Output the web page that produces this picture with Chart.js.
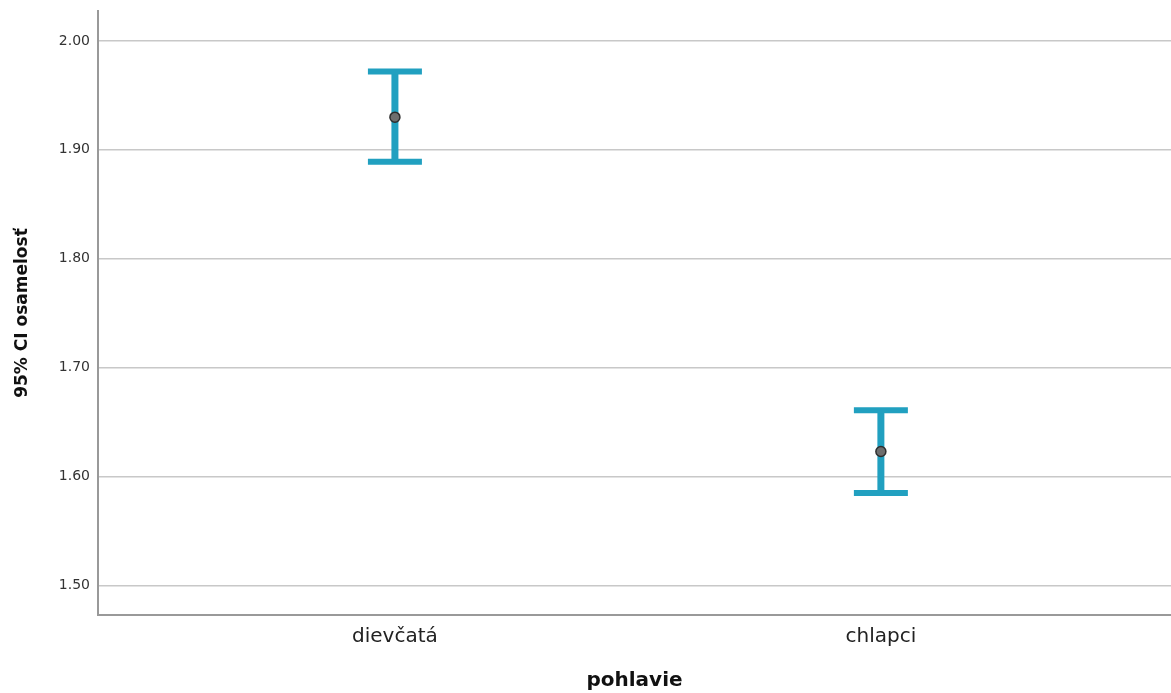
<!DOCTYPE html>
<html>
<head>
<meta charset="utf-8">
<script src="https://cdn.jsdelivr.net/npm/chart.js@4/dist/chart.umd.min.js"></script>
<style>
  html, body { margin: 0; padding: 0; background: #fff; }
  #wrap { width: 1171px; height: 693px; position: relative; }
</style>
</head>
<body>
<div id="wrap"><canvas id="c" width="1171" height="693"></canvas></div>
<script>
// 95% CI of osamelosť by pohlavie
var CATS = ['dievčatá', 'chlapci'];
var MEANS = [1.930, 1.623];
var LOWER = [1.889, 1.585];
var UPPER = [1.972, 1.661];
var Y_TICKS = [1.50, 1.60, 1.70, 1.80, 1.90, 2.00];

var TEAL = '#21a0c0';
var FONT = "'DejaVu Sans', 'Liberation Sans', sans-serif";

// draws the whisker + caps for each category through the chart scales
var errorBars = {
  id: 'errorBars',
  beforeDatasetsDraw: function (chart) {
    var x = chart.scales.x, y = chart.scales.y, ctx = chart.ctx;
    ctx.save();
    ctx.strokeStyle = TEAL;
    ctx.lineCap = 'butt';
    CATS.forEach(function (c, i) {
      var px = x.getPixelForValue(i), lo = y.getPixelForValue(LOWER[i]), hi = y.getPixelForValue(UPPER[i]);
      ctx.lineWidth = 7;
      ctx.beginPath(); ctx.moveTo(px, lo); ctx.lineTo(px, hi); ctx.stroke();
      ctx.lineWidth = 6;
      ctx.beginPath();
      ctx.moveTo(px - 27, hi); ctx.lineTo(px + 27, hi);
      ctx.moveTo(px - 27, lo); ctx.lineTo(px + 27, lo);
      ctx.stroke();
    });
    ctx.restore();
  }
};

new Chart(document.getElementById('c'), {
  type: 'scatter',
  data: {
    datasets: [{
      data: MEANS.map(function (m, i) { return { x: i, y: m }; }),
      backgroundColor: '#6e6e6e',
      borderColor: '#2e2e2e',
      borderWidth: 1.5,
      pointRadius: 5,
      pointHoverRadius: 5
    }]
  },
  options: {
    responsive: false,
    animation: false,
    devicePixelRatio: 1,
    layout: { autoPadding: false, padding: { top: 11, right: 0, left: 0, bottom: 0 } },
    plugins: { legend: { display: false }, tooltip: { enabled: false } },
    scales: {
      x: {
        type: 'linear',
        min: -0.611, max: 1.597,
        afterBuildTicks: function (s) { s.ticks = CATS.map(function (c, i) { return { value: i }; }); },
        afterFit: function (s) { s.height = 78; s.paddingLeft = 0; s.paddingRight = 0; },
        ticks: {
          callback: function (v) { return CATS[v]; },
          color: '#222', font: { family: FONT, size: 20 }, padding: 10, maxRotation: 0
        },
        grid: { display: false, drawTicks: false },
        border: { color: '#999', width: 2 },
        title: { display: true, text: 'pohlavie', color: '#111', font: { family: FONT, size: 20, weight: 'bold' }, padding: { top: 0, bottom: 0 } }
      },
      y: {
        min: 1.4729, max: 2.0275,
        afterBuildTicks: function (s) { s.ticks = Y_TICKS.map(function (v) { return { value: v }; }); },
        afterFit: function (s) { s.width = 98; s.paddingTop = 0; s.paddingBottom = 0; },
        ticks: {
          callback: function (v) { return v.toFixed(2); },
          color: '#333', font: { family: FONT, size: 14 }, padding: 8
        },
        grid: { color: '#c8c8c8', lineWidth: 1.5, drawTicks: false },
        border: { color: '#999', width: 2 },
        title: { display: true, text: '95% CI osamelosť', color: '#111', font: { family: FONT, size: 17, weight: 'bold' }, padding: { top: 12, bottom: 0 } }
      }
    }
  },
  plugins: [errorBars]
});
</script>
</body>
</html>
